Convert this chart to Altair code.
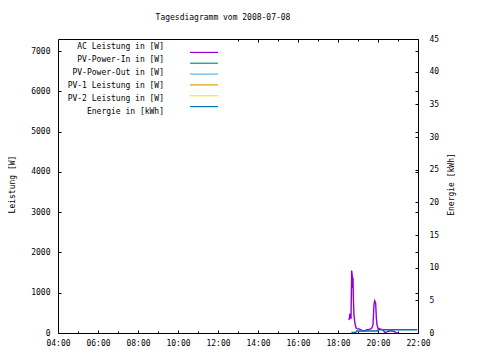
import altair as alt
import pandas as pd

# ---------------- data ----------------
series_names = [
    "AC Leistung in [W]",
    "PV-Power-In in [W]",
    "PV-Power-Out in [W]",
    "PV-1 Leistung in [W]",
    "PV-2 Leistung in [W]",
    "Energie in [kWh]",
]
series_colors = ["#9400d3", "#009e73", "#56b4e9", "#e69f00", "#f0e442", "#0072b2"]

ac_times = ["18:33", "18:36", "18:39", "18:41", "18:43", "18:44", "18:45", "18:46",
            "18:48", "18:51", "18:54", "18:57", "19:03", "19:09", "19:15", "19:21",
            "19:27", "19:33", "19:39", "19:42", "19:45", "19:48", "19:50", "19:53",
            "19:55", "19:57", "20:00", "20:06", "20:15", "20:21", "20:27", "20:33",
            "20:42", "20:48", "20:54", "21:00"]
ac_values = [320, 480, 350, 1550, 1400, 1120, 1380, 880,
             430, 230, 130, 110, 100, 80, 50, 60,
             80, 90, 100, 130, 200, 720, 800, 740,
             380, 200, 120, 100, 80, 10, 30, 50,
             50, 40, 10, 0]

energy_times = ["18:40", "18:54", "18:56", "19:58", "20:00", "21:58"]
energy_values = [0.1, 0.1, 0.3, 0.3, 0.5, 0.5]

x_major = [4, 6, 8, 10, 12, 14, 16, 18, 20, 22]
x_minor = [5, 7, 9, 11, 13, 15, 17, 19, 21]
x_top_major = [14, 16, 18, 20]          # top ticks not hidden by the key box
x_top_minor = [13, 15, 17, 19, 21]
y1_ticks = [0, 1000, 2000, 3000, 4000, 5000, 6000, 7000]
y2_ticks = [0, 5, 10, 15, 20, 25, 30, 35, 40, 45]


def to_hours(times):
    return [int(t[:2]) + int(t[3:]) / 60 for t in times]


power_df = pd.DataFrame({"h": to_hours(ac_times), "v": ac_values, "series": series_names[0]})
energy_df = pd.DataFrame({"h": to_hours(energy_times), "v": energy_values, "series": series_names[5]})
legend_df = pd.DataFrame({"series": series_names})

FONT = "DejaVu Sans Mono"
FS = 8
MAJ = 3
MIN = 2

x_scale = alt.Scale(domain=[4, 22], nice=False, zero=False)
y1_scale = alt.Scale(domain=[0, 7300], nice=False)
y2_scale = alt.Scale(domain=[0, 45], nice=False)
color_scale = alt.Scale(domain=series_names, range=series_colors)
legend_y_scale = alt.Scale(domain=series_names, range=[8, 73], padding=0)

# mirrored ticks (top and right edge, inward)
mirror = alt.Chart(power_df).mark_line(strokeOpacity=0).encode(
    x=alt.X("h:Q", scale=x_scale, axis=alt.Axis(
        orient="top", values=x_top_major, labels=False, tickSize=MAJ, offset=-MAJ,
        domain=False, grid=False, title=None)),
    y=alt.Y("v:Q", scale=y1_scale, axis=alt.Axis(
        orient="right", values=y1_ticks, labels=False, tickSize=MAJ, offset=-MAJ,
        domain=False, grid=False, title=None)),
)
mirror_minor = alt.Chart(power_df).mark_line(strokeOpacity=0).encode(
    x=alt.X("h:Q", scale=x_scale, axis=alt.Axis(
        orient="top", values=x_top_minor, labels=False, tickSize=MIN, offset=-MIN,
        domain=False, grid=False, title=None)),
    y=alt.Y("v:Q", scale=y1_scale, axis=None),
)

power = alt.Chart(power_df).mark_line(strokeWidth=1.4).encode(
    x=alt.X("h:Q", scale=x_scale, axis=alt.Axis(
        orient="bottom", values=x_major, tickSize=MAJ, offset=-MAJ, domain=False,
        grid=False, labelPadding=6, labelFlush=False, title=None,
        labelExpr="(datum.value < 10 ? '0' : '') + datum.value + ':00'")),
    y=alt.Y("v:Q", scale=y1_scale, axis=alt.Axis(
        orient="left", values=y1_ticks, tickSize=MAJ, offset=-MAJ, domain=False,
        grid=False, labelPadding=8, labelFlush=False, format="d",
        title="Leistung [W]", titleX=-49, titleY=145, titleAngle=270,
        titleBaseline="middle", titleAlign="center")),
    color=alt.Color("series:N", scale=color_scale, legend=None),
)

energy = alt.Chart(energy_df).mark_line(strokeWidth=1.4).encode(
    x=alt.X("h:Q", scale=x_scale, axis=alt.Axis(
        orient="bottom", values=x_minor, labels=False, tickSize=MIN, offset=-MIN,
        domain=False, grid=False, title=None)),
    y=alt.Y("v:Q", scale=y2_scale, axis=alt.Axis(
        orient="right", values=y2_ticks, tickSize=MAJ, offset=-MAJ, domain=False,
        grid=False, labelPadding=11, labelFlush=False, labelAlign="left", format="d",
        title="Energie [kWh]", titleX=36, titleY=145, titleAngle=270,
        titleBaseline="middle", titleAlign="center")),
    color=alt.Color("series:N", scale=color_scale, legend=None),
)

# key (gnuplot style: text right-aligned, sample line to the right)
key_text = alt.Chart(legend_df).mark_text(
    align="right", baseline="middle", font=FONT, fontSize=FS, color="black"
).encode(
    x=alt.value(106),
    y=alt.Y("series:N", scale=legend_y_scale, axis=None),
    text="series:N",
)
key_line = alt.Chart(legend_df).mark_rule(strokeWidth=1.2).encode(
    x=alt.value(132), x2=alt.value(160),
    y=alt.Y("series:N", scale=legend_y_scale, axis=None),
    color=alt.Color("series:N", scale=color_scale, legend=None),
)

chart = alt.layer(mirror, mirror_minor, power, energy, key_text, key_line).resolve_scale(
    y="independent"
).resolve_axis(
    x="independent", y="independent"
).properties(
    width=360, height=294,
    background="white",
    title=alt.TitleParams(
        "Tagesdiagramm vom 2008-07-08", font=FONT, fontSize=FS, fontWeight="normal",
        color="black", anchor="middle", frame="group", baseline="middle",
        offset=9, dx=-15),
    autosize=alt.AutoSizeParams(type="none"),
    padding={"left": 50, "top": 31, "right": 54, "bottom": 19},
).configure_view(
    stroke="black", strokeWidth=1
).configure_axis(
    labelFont=FONT, labelFontSize=FS, labelColor="black", tickColor="black",
    titleFont=FONT, titleFontSize=FS, titleColor="black", titleFontWeight="normal",
)

chart.save("out.html", embed_options={"renderer": "svg", "actions": False})
